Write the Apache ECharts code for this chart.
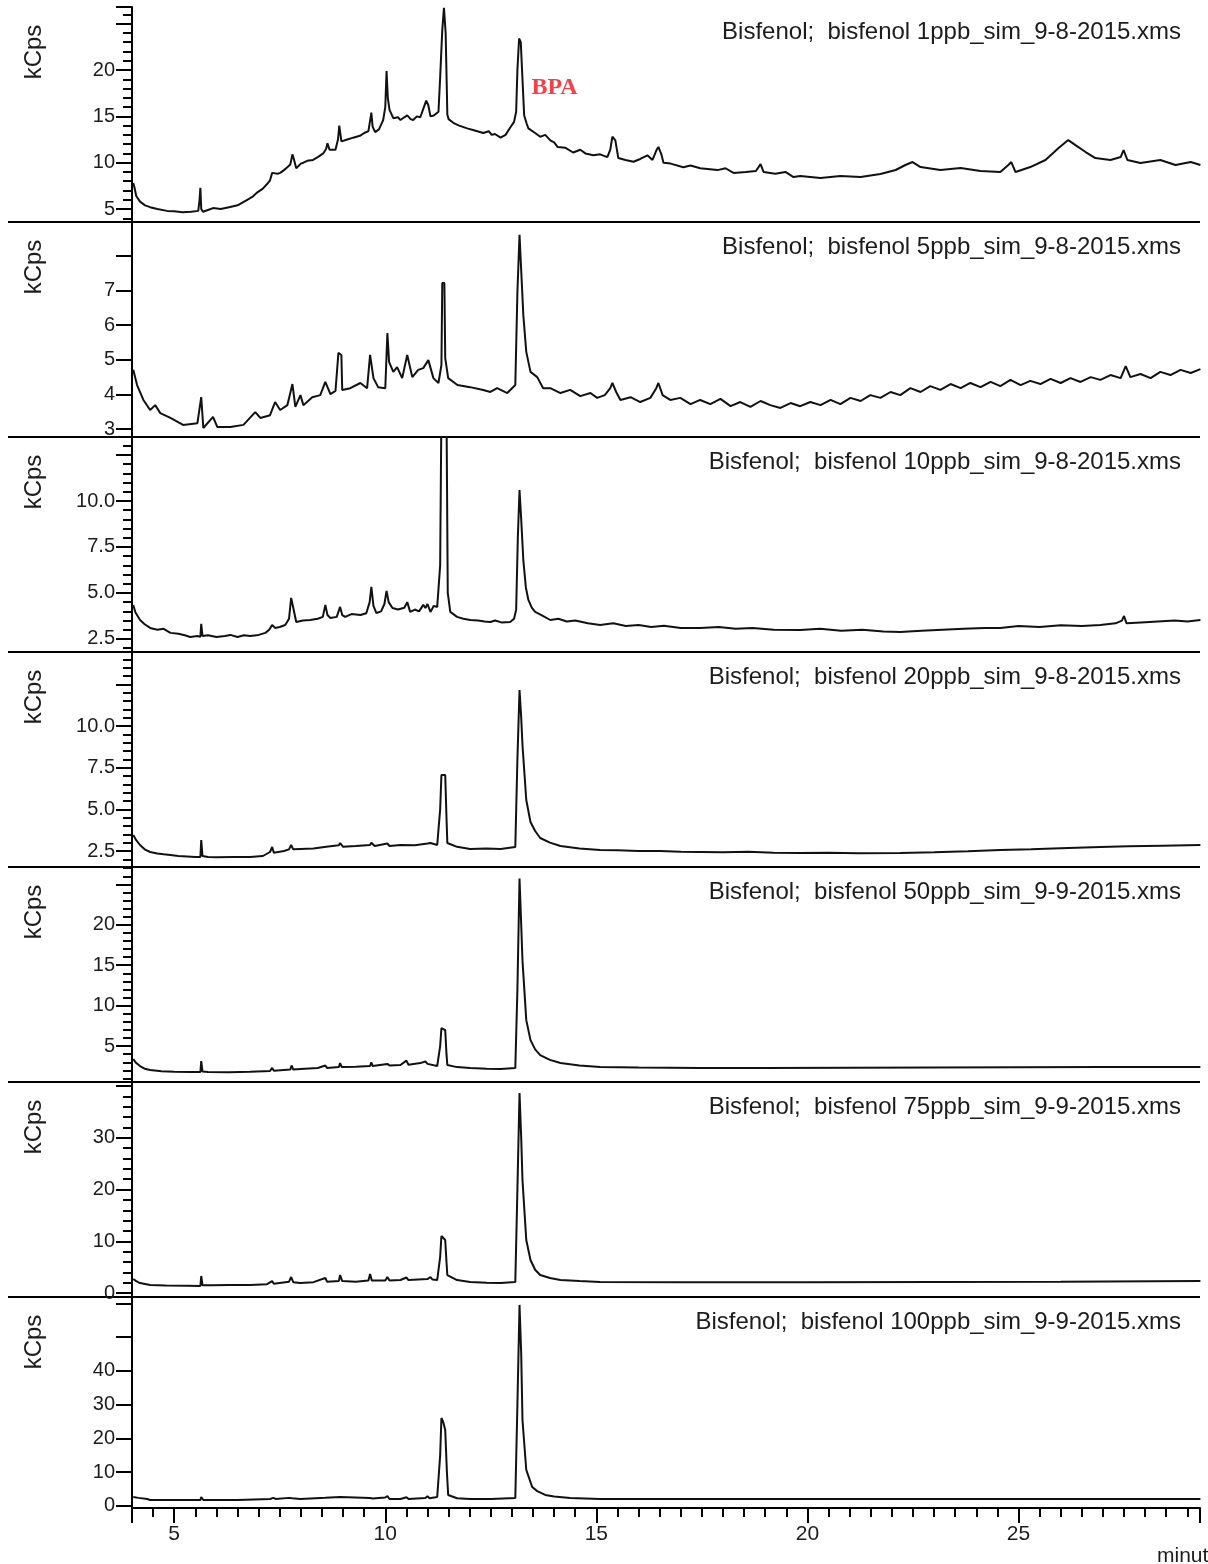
<!DOCTYPE html>
<html>
<head>
<meta charset="utf-8">
<script src="https://cdn.jsdelivr.net/npm/echarts@6/dist/echarts.min.js"></script>
<style>
  html, body { margin: 0; padding: 0; background: #fff; }
  #chart { width: 1208px; height: 1564px; }
</style>
</head>
<body>
<div id="chart"></div>
<script>
// retention time (min), intensity (kCps)
const ppb1 = [[4.03,7.8],[4.06,7.3],[4.10,6.4],[4.19,5.8],[4.31,5.4],[4.43,5.2],[4.60,5.0],[4.83,4.8],[5.00,4.75],[5.20,4.65],
  [5.40,4.7],[5.57,4.8],[5.60,6.0],[5.62,7.3],[5.64,5.0],[5.68,4.7],[5.80,4.9],[5.92,5.1],[6.10,5.0],[6.30,5.2],
  [6.50,5.4],[6.73,6.0],[6.85,6.3],[6.97,6.8],[7.10,7.2],[7.20,7.7],[7.27,8.1],[7.32,8.9],[7.35,9.1],[7.45,8.8],
  [7.51,8.9],[7.60,9.2],[7.68,9.5],[7.75,9.8],[7.80,10.9],[7.84,10.3],[7.89,9.4],[8.00,9.9],[8.06,10.0],[8.15,10.2],
  [8.29,10.3],[8.40,10.6],[8.53,11.0],[8.60,11.5],[8.63,12.1],[8.68,11.4],[8.82,11.4],[8.88,12.5],[8.91,14.0],[8.96,12.3],
  [9.00,12.1],[9.10,12.5],[9.24,12.7],[9.40,12.9],[9.50,13.2],[9.60,13.4],[9.65,14.8],[9.67,15.4],[9.70,13.9],[9.76,13.3],
  [9.85,13.6],[9.95,14.6],[10.00,16.0],[10.03,19.9],[10.06,17.0],[10.10,15.7],[10.19,14.8],[10.30,14.9],[10.36,14.6],[10.45,14.9],
  [10.52,15.1],[10.60,14.7],[10.66,14.6],[10.75,15.0],[10.83,14.9],[10.90,15.8],[10.97,16.7],[11.02,16.2],[11.07,15.0],[11.15,15.1],
  [11.26,15.5],[11.30,19.2],[11.35,24.3],[11.39,26.7],[11.43,24.0],[11.47,15.2],[11.50,14.7],[11.61,14.3],[11.75,14.0],[11.94,13.7],
  [12.10,13.5],[12.32,13.2],[12.45,13.4],[12.52,13.0],[12.60,13.1],[12.73,12.7],[12.85,13.0],[12.96,13.8],[13.05,14.4],[13.10,15.5],
  [13.13,20.0],[13.17,23.4],[13.21,23.0],[13.25,19.0],[13.29,15.1],[13.35,14.2],[13.39,13.7],[13.55,13.2],[13.67,12.8],[13.79,13.0],
  [13.91,12.4],[14.00,12.2],[14.08,11.7],[14.27,11.6],[14.45,11.1],[14.62,11.4],[14.74,11.0],[14.93,10.8],[15.09,10.9],[15.26,10.6],
  [15.33,11.4],[15.38,12.8],[15.45,12.4],[15.52,10.5],[15.69,10.3],[15.88,10.1],[16.04,10.4],[16.21,10.8],[16.33,10.3],[16.43,11.4],
  [16.47,11.7],[16.54,10.9],[16.59,10.0],[16.76,9.9],[17.06,9.5],[17.23,9.7],[17.46,9.4],[17.87,9.2],[18.06,9.4],[18.25,8.9],
  [18.54,9.0],[18.78,9.1],[18.89,9.85],[18.96,9.0],[19.24,8.8],[19.48,9.0],[19.67,8.45],[19.83,8.56],[20.31,8.34],[20.78,8.56],
  [21.26,8.45],[21.73,8.78],[22.09,9.21],[22.32,9.75],[22.49,10.07],[22.68,9.53],[23.15,9.21],[23.63,9.42],[24.10,9.10],[24.57,8.99],
  [24.76,9.75],[24.83,10.07],[24.93,8.99],[25.28,9.53],[25.64,10.29],[25.95,11.58],[26.18,12.44],[26.35,11.90],[26.59,11.15],[26.82,10.50],
  [27.18,10.29],[27.42,10.61],[27.49,11.36],[27.58,10.29],[27.89,9.96],[28.36,10.29],[28.72,9.75],[29.08,10.07],[29.31,9.75]];

const ppb5 = [[4.03,4.71],[4.12,4.27],[4.27,3.84],[4.43,3.55],[4.55,3.69],[4.67,3.46],[4.91,3.32],[5.21,3.12],[5.55,3.17],[5.64,3.92],
  [5.69,3.03],[5.92,3.35],[6.02,3.06],[6.33,3.06],[6.64,3.12],[6.92,3.49],[7.04,3.32],[7.27,3.40],[7.39,3.78],[7.51,3.55],
  [7.68,3.69],[7.80,4.30],[7.87,3.64],[7.99,3.98],[8.06,3.69],[8.27,3.92],[8.46,3.98],[8.58,4.36],[8.70,4.01],[8.82,4.10],
  [8.89,5.20],[8.96,5.14],[8.98,4.13],[9.17,4.18],[9.41,4.33],[9.57,4.18],[9.64,5.14],[9.72,4.47],[9.83,4.21],[10.00,4.18],
  [10.05,5.77],[10.09,4.94],[10.19,4.65],[10.28,4.79],[10.40,4.47],[10.52,5.14],[10.64,4.50],[10.78,4.71],[10.90,4.76],[11.02,4.99],
  [11.14,4.47],[11.26,4.33],[11.33,4.85],[11.35,7.22],[11.40,7.22],[11.42,5.05],[11.49,4.47],[11.71,4.27],[12.01,4.21],[12.32,4.13],
  [12.49,4.07],[12.65,4.18],[12.89,4.04],[13.08,4.27],[13.13,6.96],[13.18,8.61],[13.27,6.29],[13.34,5.23],[13.44,4.65],[13.60,4.50],
  [13.74,4.18],[13.91,4.18],[14.15,4.04],[14.38,4.13],[14.62,3.95],[14.86,4.04],[15.02,3.90],[15.20,3.98],[15.33,4.18],[15.38,4.33],
  [15.47,4.07],[15.57,3.84],[15.81,3.92],[16.04,3.78],[16.28,3.90],[16.42,4.18],[16.47,4.33],[16.57,3.98],[16.75,3.84],[16.99,3.90],
  [17.23,3.72],[17.46,3.84],[17.70,3.72],[17.94,3.87],[18.18,3.66],[18.41,3.78],[18.65,3.64],[18.89,3.81],[19.12,3.69],[19.36,3.61],
  [19.60,3.75],[19.83,3.66],[20.07,3.78],[20.31,3.69],[20.55,3.84],[20.78,3.72],[21.02,3.90],[21.26,3.81],[21.49,3.98],[21.73,3.90],
  [21.97,4.07],[22.20,3.98],[22.44,4.18],[22.68,4.07],[22.91,4.24],[23.15,4.13],[23.39,4.30],[23.63,4.18],[23.86,4.33],[24.10,4.21],
  [24.34,4.36],[24.57,4.24],[24.81,4.42],[25.05,4.27],[25.28,4.39],[25.52,4.30],[25.76,4.45],[26.00,4.33],[26.23,4.47],[26.47,4.36],
  [26.71,4.50],[26.94,4.42],[27.18,4.56],[27.42,4.47],[27.54,4.82],[27.65,4.50],[27.89,4.59],[28.13,4.47],[28.36,4.65],[28.60,4.56],
  [28.84,4.71],[29.08,4.62],[29.31,4.73]];

const ppb10 = [[4.03,4.35],[4.08,3.95],[4.19,3.53],[4.30,3.30],[4.43,3.10],[4.60,3.00],[4.75,3.05],[4.91,2.83],[5.10,2.78],[5.25,2.70],
  [5.38,2.61],[5.55,2.66],[5.62,2.61],[5.64,3.32],[5.67,2.66],[5.80,2.70],[6.00,2.61],[6.20,2.66],[6.33,2.72],[6.50,2.61],
  [6.65,2.70],[6.80,2.66],[7.00,2.72],[7.16,2.83],[7.25,3.00],[7.32,3.26],[7.39,3.10],[7.50,3.15],[7.63,3.26],[7.72,3.60],
  [7.77,4.73],[7.82,4.20],[7.89,3.42],[8.05,3.50],[8.22,3.53],[8.40,3.60],[8.52,3.70],[8.58,4.35],[8.63,3.80],[8.70,3.64],
  [8.85,3.70],[8.93,4.24],[8.98,3.80],[9.05,3.70],[9.20,3.85],[9.41,3.80],[9.55,3.90],[9.63,4.50],[9.67,5.33],[9.72,4.30],
  [9.79,3.91],[9.90,4.00],[9.98,4.40],[10.03,5.11],[10.08,4.50],[10.17,4.18],[10.30,4.10],[10.45,4.20],[10.52,4.50],[10.59,3.97],
  [10.70,4.10],[10.80,4.00],[10.90,4.35],[10.95,4.18],[11.00,4.40],[11.07,3.97],[11.15,4.30],[11.23,4.24],[11.30,6.50],[11.33,15.0],
  [11.45,15.0],[11.48,5.00],[11.54,3.97],[11.70,3.70],[11.85,3.60],[12.01,3.53],[12.20,3.50],[12.35,3.45],[12.49,3.42],[12.60,3.50],
  [12.75,3.40],[12.96,3.42],[13.05,3.60],[13.10,4.08],[13.14,8.00],[13.18,10.60],[13.22,9.00],[13.27,6.79],[13.33,5.30],[13.39,4.62],
  [13.47,4.20],[13.55,3.97],[13.70,3.80],[13.91,3.53],[14.10,3.60],[14.30,3.45],[14.50,3.50],[14.80,3.35],[15.09,3.26],[15.40,3.35],
  [15.70,3.20],[16.00,3.26],[16.30,3.15],[16.60,3.22],[17.00,3.10],[17.46,3.10],[17.90,3.15],[18.30,3.05],[18.70,3.10],[19.20,3.00],
  [19.83,2.99],[20.30,3.05],[20.80,2.95],[21.30,3.00],[21.80,2.90],[22.20,2.88],[22.70,2.95],[23.20,3.00],[23.70,3.05],[24.20,3.10],
  [24.57,3.10],[25.00,3.20],[25.50,3.15],[26.00,3.25],[26.50,3.20],[26.94,3.26],[27.30,3.35],[27.45,3.50],[27.50,3.75],[27.56,3.35],
  [27.90,3.40],[28.30,3.45],[28.70,3.50],[29.00,3.45],[29.31,3.53]];

const ppb20 = [[4.03,3.46],[4.10,3.15],[4.19,2.86],[4.30,2.60],[4.43,2.44],[4.60,2.35],[4.75,2.30],[4.91,2.26],[5.10,2.20],[5.30,2.17],
  [5.50,2.14],[5.62,2.14],[5.64,3.16],[5.67,2.20],[5.80,2.14],[6.00,2.12],[6.40,2.14],[6.80,2.14],[7.10,2.20],[7.27,2.44],
  [7.32,2.74],[7.36,2.40],[7.60,2.50],[7.72,2.60],[7.77,2.86],[7.82,2.60],[7.99,2.62],[8.30,2.65],[8.60,2.75],[8.90,2.85],
  [8.93,2.98],[9.00,2.75],[9.30,2.80],[9.64,2.86],[9.67,3.00],[9.75,2.80],[10.05,2.95],[10.10,2.80],[10.36,2.86],[10.70,2.85],
  [11.00,2.95],[11.07,2.98],[11.23,2.86],[11.30,5.00],[11.33,7.06],[11.42,7.06],[11.45,4.50],[11.47,2.98],[11.70,2.75],[12.01,2.62],
  [12.40,2.65],[12.73,2.62],[13.08,2.74],[13.13,8.00],[13.18,12.16],[13.22,10.50],[13.25,8.86],[13.34,5.56],[13.44,4.24],[13.55,3.70],
  [13.67,3.28],[13.90,3.00],[14.15,2.80],[14.60,2.65],[15.09,2.56],[15.50,2.55],[16.00,2.50],[16.50,2.50],[17.00,2.45],[17.46,2.44],
  [18.00,2.42],[18.60,2.45],[19.20,2.40],[19.83,2.38],[20.50,2.40],[21.20,2.36],[22.20,2.38],[23.00,2.42],[23.80,2.48],[24.57,2.56],
  [25.30,2.60],[26.00,2.66],[26.94,2.74],[27.60,2.78],[28.40,2.82],[29.31,2.86]];

const ppb50 = [[4.03,3.40],[4.10,2.90],[4.19,2.53],[4.30,2.20],[4.43,2.04],[4.70,1.90],[5.00,1.82],[5.40,1.80],[5.62,1.79],[5.64,3.15],
  [5.67,1.85],[5.80,1.80],[6.30,1.78],[6.80,1.82],[7.27,1.92],[7.32,2.30],[7.36,1.95],[7.75,2.10],[7.78,2.60],[7.82,2.10],
  [7.99,2.16],[8.40,2.30],[8.58,2.60],[8.62,2.30],[8.90,2.40],[8.93,2.90],[8.97,2.40],[9.30,2.45],[9.64,2.53],[9.67,3.00],
  [9.70,2.55],[10.05,2.80],[10.10,2.60],[10.36,2.66],[10.50,3.20],[10.55,2.70],[10.83,2.90],[10.95,3.10],[11.00,2.80],[11.23,2.53],
  [11.30,5.00],[11.33,7.22],[11.42,6.97],[11.45,4.00],[11.47,2.66],[11.70,2.40],[12.01,2.29],[12.40,2.20],[12.73,2.16],[13.08,2.29],
  [13.13,12.0],[13.18,25.72],[13.22,20.0],[13.25,15.60],[13.34,8.21],[13.44,5.74],[13.55,4.60],[13.67,3.89],[13.90,3.30],[14.15,2.90],
  [14.60,2.60],[15.09,2.41],[16.00,2.35],[17.46,2.29],[19.00,2.30],[21.00,2.32],[23.00,2.35],[25.00,2.38],[27.00,2.40],[29.31,2.41]];

const ppb75 = [[4.03,2.71],[4.10,2.30],[4.19,1.93],[4.43,1.55],[4.80,1.45],[5.30,1.40],[5.62,1.35],[5.64,3.29],[5.67,1.50],[5.90,1.50],
  [6.30,1.55],[6.80,1.55],[7.20,1.70],[7.32,2.30],[7.36,1.80],[7.72,2.20],[7.77,3.09],[7.82,2.10],[7.99,1.93],[8.30,2.10],
  [8.58,2.90],[8.62,2.20],[8.90,2.30],[8.93,3.48],[8.98,2.30],[9.30,2.20],[9.60,2.40],[9.64,3.68],[9.68,2.40],[10.00,2.40],
  [10.05,3.10],[10.10,2.40],[10.36,2.51],[10.50,3.00],[10.55,2.50],[11.00,2.70],[11.07,3.09],[11.12,2.60],[11.23,2.51],[11.30,7.00],
  [11.33,11.03],[11.42,10.25],[11.45,6.00],[11.47,3.48],[11.70,2.50],[12.01,2.13],[12.40,2.00],[12.73,1.93],[13.08,2.13],[13.13,20.0],
  [13.18,38.68],[13.22,30.0],[13.25,21.86],[13.34,10.25],[13.44,6.38],[13.55,4.50],[13.67,3.48],[13.90,2.90],[14.15,2.51],[14.60,2.30],
  [15.09,2.13],[17.00,2.10],[20.00,2.10],[23.00,2.15],[26.00,2.20],[29.31,2.32]];

const ppb100 = [[4.03,2.67],[4.15,2.40],[4.36,2.07],[4.43,1.78],[5.00,1.78],[5.62,1.78],[5.64,2.67],[5.69,1.78],[6.50,1.78],[7.27,2.07],
  [7.35,2.40],[7.40,2.07],[7.72,2.40],[7.75,2.90],[7.80,2.30],[7.99,2.07],[8.58,2.40],[8.62,2.10],[8.93,2.67],[8.97,2.10],
  [9.64,2.37],[9.67,2.80],[9.70,2.20],[10.00,2.50],[10.05,2.96],[10.10,2.07],[10.36,2.07],[10.50,2.60],[10.55,2.10],[10.95,2.37],
  [11.00,2.90],[11.05,2.30],[11.23,2.67],[11.30,15.0],[11.33,26.07],[11.37,25.0],[11.42,22.52],[11.46,10.0],[11.49,3.26],[11.70,2.30],
  [12.01,2.07],[12.50,2.10],[13.08,2.37],[13.13,30.0],[13.18,59.56],[13.22,45.0],[13.25,25.48],[13.34,10.67],[13.48,5.63],[13.60,4.40],
  [13.79,3.26],[14.00,2.80],[14.38,2.37],[15.09,2.07],[29.31,2.07]];

const traces = [ppb1, ppb5, ppb10, ppb20, ppb50, ppb75, ppb100];

const titles = [
  'Bisfenol;  bisfenol 1ppb_sim_9-8-2015.xms',
  'Bisfenol;  bisfenol 5ppb_sim_9-8-2015.xms',
  'Bisfenol;  bisfenol 10ppb_sim_9-8-2015.xms',
  'Bisfenol;  bisfenol 20ppb_sim_9-8-2015.xms',
  'Bisfenol;  bisfenol 50ppb_sim_9-9-2015.xms',
  'Bisfenol;  bisfenol 75ppb_sim_9-9-2015.xms',
  'Bisfenol;  bisfenol 100ppb_sim_9-9-2015.xms'
];

// axis ranges per panel
const yMin = [3.6, 2.77, 1.79, 1.54, 0.56, -0.77, -0.6];
const yMax = [26.8, 8.98, 13.48, 14.44, 27.15, 40.8, 61.9];
const yStep = [5, 1, 2.5, 2.5, 5, 10, 10];
const yMinorSplit = [5, 0, 5, 5, 5, 5, 0];
const yLastLabel = [20, 7, 10, 10, 20, 30, 40];
const yDecimals = [0, 0, 1, 1, 0, 0, 0];

const xMin = 4, xMax = 29.3, xStep = 5;
const bpaLabelAt = [13.45, 18.1];

// layout
const W = 1208;
const panelTop = [7, 222, 437, 652, 867, 1082, 1297];
const panelH = [215, 215, 215, 215, 215, 215, 211];
const gridLeft = 132, gridRight = 8;
const FONT = 'Liberation Sans, Arial, sans-serif';
const INK = '#1c1c1c';

const chart = echarts.init(document.getElementById('chart'), null, { renderer: 'canvas' });

const grid = [], xAxis = [], yAxis = [], series = [], title = [], graphic = [];

traces.forEach((data, i) => {
  const last = i === traces.length - 1;
  grid.push({ left: gridLeft, right: gridRight, top: panelTop[i], height: panelH[i], containLabel: false, outerBoundsMode: 'none' });

  xAxis.push({
    type: 'value', gridIndex: i, min: xMin, max: xMax,
    minInterval: xStep, maxInterval: xStep,
    show: last,
    splitLine: { show: false },
    axisLine: { show: true, onZero: false, lineStyle: { color: '#000', width: 2 } },
    axisTick: { show: true, inside: false, length: 15, lineStyle: { color: '#000', width: 2 } },
    minorTick: { show: true, splitNumber: 10, length: 9, lineStyle: { color: '#000', width: 2 } },
    axisLabel: { show: true, margin: 16, fontSize: 21, color: INK, fontFamily: FONT, showMinLabel: false, showMaxLabel: false }
  });

  yAxis.push({
    type: 'value', gridIndex: i, min: yMin[i], max: yMax[i],
    minInterval: yStep[i], maxInterval: yStep[i],
    splitLine: { show: false },
    axisLine: { show: true, onZero: false, lineStyle: { color: '#000', width: 2 } },
    axisTick: { show: true, inside: false, length: 16, lineStyle: { color: '#000', width: 2 } },
    minorTick: { show: yMinorSplit[i] > 0, splitNumber: yMinorSplit[i] || 5, length: 9, lineStyle: { color: '#000', width: 2 } },
    axisLabel: {
      margin: 17, fontSize: 20, color: INK, fontFamily: FONT,
      showMinLabel: false, showMaxLabel: false,
      formatter: v => (v > yLastLabel[i] + 1e-6 ? '' : v.toFixed(yDecimals[i]))
    }
  });

  series.push({
    type: 'line', xAxisIndex: i, yAxisIndex: i, data: data,
    showSymbol: false, symbol: 'none', clip: true, silent: true,
    lineStyle: { color: '#111', width: 2 }
  });

  title.push({
    text: titles[i], right: 27, top: panelTop[i] + 13, padding: 0,
    textStyle: { fontSize: 24, fontWeight: 'normal', color: INK, fontFamily: FONT }
  });

  graphic.push({
    type: 'text', x: 34, y: panelTop[i] + 45, rotation: Math.PI / 2,
    style: { text: 'kCps', fontSize: 24, fontFamily: FONT, fill: INK, align: 'center', verticalAlign: 'middle' }
  });

  if (!last) {
    const yb = panelTop[i] + panelH[i];
    graphic.push({
      type: 'line', shape: { x1: 8, y1: yb, x2: W - gridRight, y2: yb },
      style: { stroke: '#000', lineWidth: 2 }
    });
  }
});

graphic.push({
  type: 'text', x: 1157, y: 1556,
  style: { text: 'minutes', fontSize: 21, fontFamily: FONT, fill: INK, align: 'left', verticalAlign: 'middle' }
});

series.push({
  type: 'scatter', xAxisIndex: 0, yAxisIndex: 0, data: [bpaLabelAt],
  symbolSize: 1, silent: true, itemStyle: { color: 'transparent' },
  label: {
    show: true, position: 'right', distance: 0, formatter: 'BPA',
    color: '#e8141c', fontSize: 24, fontWeight: 'bold', fontFamily: 'Liberation Serif, Times New Roman, serif'
  }
});

chart.setOption({
  animation: false,
  backgroundColor: '#fff',
  title, grid, xAxis, yAxis, series, graphic
});
</script>
</body>
</html>
